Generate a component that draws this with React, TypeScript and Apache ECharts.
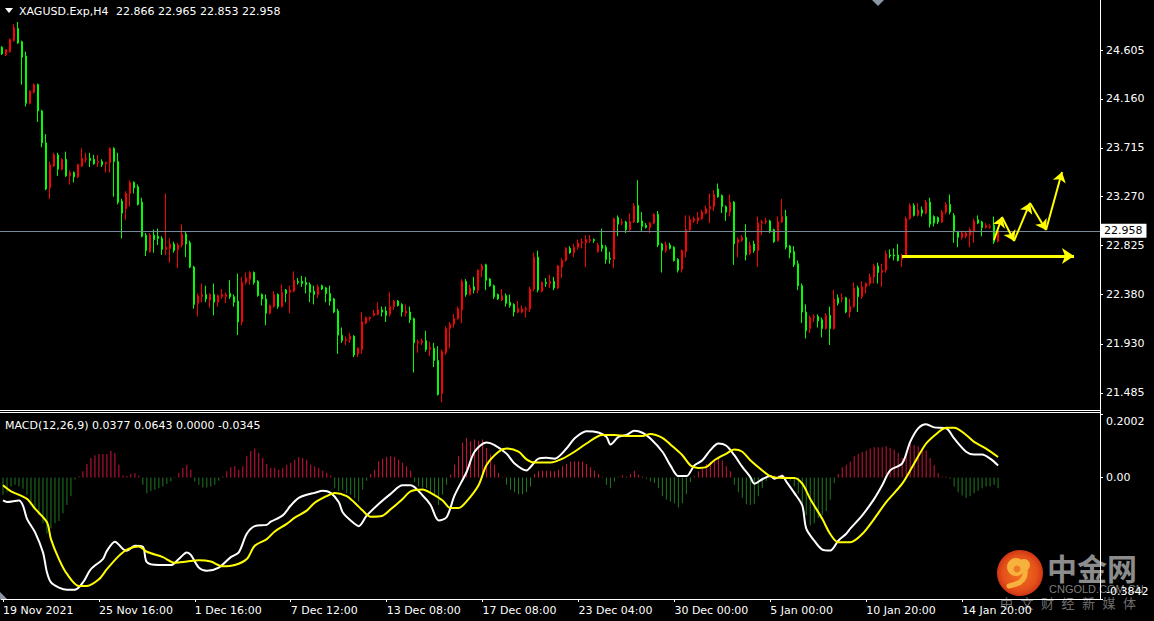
import React, { useEffect, useRef } from 'react';
import * as echarts from 'echarts';

// ---------- DATA ----------
const opens = [
  24.63,24.56,24.59,24.69,24.80,24.68,24.55,24.12,24.22,24.29,
  24.05,23.76,23.35,23.55,23.65,23.52,23.61,23.46,23.49,23.45,
  23.55,23.61,23.62,23.61,23.58,23.59,23.57,23.58,23.71,23.59,
  23.23,23.16,23.30,23.40,23.36,23.22,22.92,22.77,22.92,22.91,
  22.89,22.79,22.80,22.84,22.79,22.83,22.93,22.85,22.63,22.30,
  22.36,22.38,22.33,22.38,22.31,22.36,22.36,22.39,22.36,22.32,
  22.13,22.49,22.52,22.58,22.50,22.38,22.34,22.21,22.27,22.38,
  22.27,22.42,22.40,22.41,22.50,22.50,22.49,22.47,22.41,22.38,
  22.46,22.44,22.39,22.34,22.23,22.01,21.96,21.97,22.00,21.84,
  21.88,22.12,22.16,22.19,22.20,22.24,22.23,22.20,22.27,22.32,
  22.29,22.21,22.22,22.16,21.94,21.94,21.96,21.88,21.89,21.78,
  21.48,21.85,22.07,22.11,22.16,22.24,22.50,22.38,22.45,22.42,
  22.60,22.65,22.52,22.46,22.38,22.33,22.37,22.31,22.29,22.22,
  22.22,22.24,22.25,22.43,22.72,22.41,22.49,22.48,22.50,22.44,
  22.63,22.69,22.80,22.76,22.81,22.85,22.85,22.87,22.88,22.77,
  22.83,22.81,22.71,22.70,23.08,23.03,23.04,22.97,23.04,23.19,
  23.05,23.01,22.99,23.03,23.11,22.84,22.78,22.83,22.81,22.70,
  22.61,22.77,22.97,23.05,23.05,23.07,23.12,23.16,23.18,23.34,
  23.28,23.18,23.13,23.22,22.85,22.87,22.90,22.75,22.84,22.78,
  23.03,23.04,23.05,22.97,22.87,23.04,23.09,22.82,22.77,22.66,
  22.46,22.22,22.07,22.17,22.18,22.15,22.07,22.19,22.07,22.35,
  22.34,22.35,22.22,22.27,22.44,22.36,22.45,22.48,22.54,22.64,
  22.58,22.60,22.74,22.74,22.74,22.70,22.73,23.07,23.19,23.10,
  23.15,23.12,23.22,23.09,23.08,23.04,23.13,23.20,23.10,22.95,
  22.90,22.91,22.92,22.96,23.06,23.04,22.99,22.99,23.01,22.866,
];
const highs = [
  24.64,24.61,24.71,24.84,24.86,24.69,24.59,24.24,24.30,24.30,
  24.06,23.84,23.59,23.67,23.67,23.62,23.68,23.51,23.50,23.57,
  23.71,23.67,23.67,23.65,23.65,23.61,23.59,23.72,23.72,23.67,
  23.25,23.32,23.42,23.41,23.38,23.26,22.94,22.94,22.97,22.98,
  22.91,23.30,22.89,22.86,22.85,23.02,22.95,22.87,22.64,22.39,
  22.48,22.46,22.39,22.48,22.38,22.43,22.40,22.51,22.38,22.57,
  22.54,22.58,22.59,22.59,22.51,22.39,22.38,22.29,22.41,22.39,
  22.47,22.43,22.46,22.59,22.53,22.55,22.54,22.49,22.46,22.47,
  22.47,22.45,22.46,22.35,22.25,22.08,22.00,22.03,22.01,21.90,
  22.22,22.18,22.18,22.24,22.31,22.27,22.27,22.40,22.33,22.33,
  22.30,22.29,22.27,22.17,21.97,21.98,22.05,21.95,21.94,21.91,
  21.88,22.09,22.13,22.20,22.27,22.52,22.52,22.47,22.54,22.61,
  22.66,22.66,22.53,22.47,22.39,22.43,22.39,22.38,22.30,22.32,
  22.28,22.27,22.45,22.76,22.78,22.50,22.53,22.56,22.54,22.65,
  22.71,22.81,22.82,22.84,22.88,22.89,22.92,22.92,22.89,22.85,
  22.98,22.83,22.77,23.08,23.10,23.07,23.05,23.12,23.21,23.42,
  23.13,23.03,23.04,23.12,23.14,22.85,22.86,22.85,22.82,22.71,
  22.79,23.10,23.10,23.09,23.13,23.15,23.19,23.30,23.33,23.39,
  23.29,23.19,23.29,23.23,22.90,22.92,23.02,22.86,22.87,23.09,
  23.06,23.08,23.06,22.98,23.09,23.25,23.15,22.83,22.82,22.69,
  22.48,22.29,22.19,22.20,22.20,22.17,22.21,22.27,22.42,22.38,
  22.39,22.36,22.34,22.49,22.46,22.50,22.49,22.57,22.66,22.67,
  22.66,22.78,22.79,22.80,22.84,22.75,23.09,23.21,23.21,23.21,
  23.18,23.24,23.26,23.10,23.09,23.15,23.22,23.29,23.12,22.96,
  22.96,22.95,22.99,23.07,23.10,23.05,23.03,23.02,23.09,22.965,
];
const lows = [
  24.56,24.55,24.58,24.68,24.66,24.29,24.09,24.11,24.21,23.95,
  23.72,23.33,23.25,23.54,23.46,23.51,23.45,23.38,23.40,23.44,
  23.54,23.58,23.54,23.56,23.54,23.54,23.49,23.49,23.27,23.20,
  22.89,23.06,23.18,23.30,23.19,22.90,22.73,22.76,22.76,22.83,
  22.74,22.74,22.67,22.76,22.62,22.81,22.72,22.62,22.25,22.18,
  22.31,22.31,22.26,22.19,22.27,22.34,22.30,22.34,22.27,22.01,
  22.10,22.47,22.47,22.47,22.36,22.28,22.10,22.20,22.26,22.25,
  22.26,22.31,22.21,22.40,22.47,22.45,22.39,22.31,22.29,22.35,
  22.42,22.31,22.28,22.21,21.84,21.94,21.92,21.94,21.81,21.81,
  21.84,22.11,22.14,22.18,22.19,22.18,22.13,22.18,22.24,22.27,
  22.18,22.18,22.12,21.67,21.85,21.92,21.86,21.82,21.72,21.46,
  21.40,21.83,21.89,22.08,22.15,22.12,22.36,22.37,22.39,22.39,
  22.54,22.42,22.45,22.34,22.33,22.32,22.27,22.26,22.18,22.21,
  22.21,22.17,22.22,22.41,22.40,22.40,22.45,22.44,22.42,22.43,
  22.53,22.68,22.75,22.72,22.79,22.80,22.63,22.85,22.85,22.76,
  22.77,22.66,22.66,22.62,22.91,23.01,22.94,22.96,23.03,23.03,
  22.95,22.98,22.94,23.02,22.81,22.58,22.76,22.79,22.68,22.58,
  22.58,22.72,22.95,23.03,23.02,23.06,23.11,23.03,23.14,23.26,
  23.12,23.05,23.09,22.65,22.72,22.86,22.69,22.74,22.76,22.63,
  22.92,23.02,22.94,22.85,22.86,23.03,22.79,22.71,22.63,22.42,
  22.12,21.98,22.03,22.13,22.08,21.99,22.06,21.92,22.06,22.28,
  22.31,22.21,22.17,22.26,22.22,22.34,22.39,22.46,22.48,22.48,
  22.45,22.58,22.71,22.69,22.68,22.63,22.71,23.06,23.09,23.09,
  23.09,23.11,22.99,23.00,23.02,23.03,23.11,23.11,22.85,22.81,
  22.88,22.89,22.81,22.85,23.02,22.91,22.98,22.98,22.84,22.853,
];
const closes = [
  24.57,24.61,24.70,24.81,24.67,24.54,24.12,24.23,24.29,24.05,
  23.76,23.34,23.56,23.65,23.52,23.61,23.46,23.49,23.45,23.56,
  23.62,23.62,23.60,23.57,23.59,23.56,23.58,23.71,23.59,23.22,
  23.12,23.30,23.40,23.35,23.20,22.91,22.78,22.92,22.88,22.89,
  22.79,22.81,22.84,22.78,22.83,22.93,22.84,22.63,22.29,22.37,
  22.38,22.34,22.38,22.31,22.37,22.38,22.38,22.36,22.31,22.13,
  22.49,22.53,22.58,22.49,22.37,22.34,22.21,22.28,22.38,22.27,
  22.40,22.39,22.42,22.51,22.49,22.48,22.47,22.40,22.38,22.45,
  22.43,22.39,22.32,22.22,22.01,21.96,21.97,22.00,21.83,21.89,
  22.13,22.17,22.17,22.21,22.24,22.22,22.19,22.27,22.32,22.28,
  22.22,22.23,22.15,21.94,21.95,21.96,21.88,21.90,21.78,21.47,
  21.86,22.07,22.11,22.16,22.25,22.50,22.38,22.44,22.42,22.60,
  22.64,22.51,22.46,22.36,22.34,22.37,22.30,22.28,22.22,22.25,
  22.25,22.25,22.43,22.72,22.42,22.49,22.48,22.50,22.44,22.64,
  22.69,22.80,22.76,22.81,22.85,22.86,22.88,22.88,22.87,22.83,
  22.80,22.70,22.70,23.07,23.02,23.04,22.97,23.04,23.19,23.04,
  23.00,22.99,23.03,23.11,22.83,22.78,22.83,22.80,22.69,22.60,
  22.78,22.97,23.06,23.07,23.08,23.13,23.16,23.18,23.29,23.27,
  23.18,23.13,23.22,22.84,22.88,22.90,22.74,22.83,22.78,23.03,
  23.04,23.05,22.95,22.86,23.04,23.09,22.81,22.76,22.65,22.46,
  22.22,22.05,22.17,22.18,22.14,22.07,22.19,22.07,22.34,22.30,
  22.35,22.22,22.27,22.44,22.36,22.45,22.48,22.54,22.64,22.58,
  22.60,22.75,22.73,22.73,22.69,22.73,23.07,23.19,23.10,23.15,
  23.12,23.22,23.02,23.03,23.04,23.13,23.20,23.13,22.95,22.90,
  22.94,22.94,22.97,23.05,23.03,22.99,23.01,23.00,22.86,22.958,
];

const histValues = [
  -0.055,-0.047,-0.029,-0.023,-0.029,-0.036,-0.055,-0.076,-0.097,-0.119,
  -0.145,-0.177,-0.161,-0.145,-0.138,-0.113,-0.087,-0.060,-0.007,0.003,
  0.019,0.042,0.061,0.070,0.074,0.074,0.074,0.083,0.077,0.040,
  0.006,0.004,0.011,0.013,0.005,-0.023,-0.050,-0.044,-0.039,-0.034,
  -0.029,-0.021,-0.013,-0.002,0.014,0.030,0.040,0.024,-0.013,-0.023,
  -0.032,-0.032,-0.029,-0.023,-0.011,0.003,0.019,0.032,0.035,0.024,
  0.035,0.067,0.083,0.091,0.077,0.061,0.042,0.030,0.030,0.024,
  0.030,0.040,0.046,0.056,0.064,0.061,0.056,0.040,0.035,0.030,
  0.021,0.014,0.006,-0.034,-0.044,-0.039,-0.050,-0.055,-0.066,-0.076,
  -0.039,-0.011,0.011,0.024,0.051,0.059,0.064,0.067,0.064,0.056,
  0.046,0.035,0.021,-0.015,-0.029,-0.032,-0.034,-0.047,-0.055,-0.087,
  -0.055,-0.023,0.008,0.040,0.067,0.109,0.125,0.114,0.120,0.116,
  0.120,0.093,0.072,0.040,0.014,0.001,-0.023,-0.039,-0.047,-0.053,
  -0.053,-0.047,-0.029,0.011,0.019,0.021,0.021,0.019,0.019,0.024,
  0.035,0.042,0.049,0.051,0.051,0.049,0.042,0.032,0.021,0.011,
  0.001,-0.023,-0.034,-0.013,-0.002,0.006,0.003,0.011,0.021,0.008,
  0.003,-0.004,-0.013,-0.018,-0.034,-0.060,-0.071,-0.076,-0.082,-0.095,
  -0.082,-0.053,-0.015,0.003,0.019,0.032,0.042,0.049,0.053,0.061,
  0.053,0.035,0.019,-0.023,-0.047,-0.064,-0.085,-0.087,-0.085,-0.060,
  -0.034,-0.011,0.003,0.006,0.006,0.011,0.003,-0.011,-0.029,-0.050,
  -0.087,-0.119,-0.152,-0.145,-0.129,-0.119,-0.106,-0.071,-0.018,0.011,
  0.032,0.040,0.049,0.067,0.074,0.080,0.085,0.091,0.095,0.095,
  0.095,0.098,0.093,0.088,0.077,0.061,0.083,0.106,0.102,0.098,
  0.093,0.085,0.061,0.038,0.014,0.002,0.002,-0.004,-0.029,-0.047,
  -0.057,-0.064,-0.060,-0.050,-0.042,-0.034,-0.029,-0.029,-0.023,-0.0345,
];

// MACD main line (white) read at bar indices: [bar, value]
const macdPoints = [
  [0,-0.073],[1,-0.078],[4,-0.073],[5,-0.089],[6,-0.131],[8,-0.173],[10,-0.237],[11,-0.300],
  [12,-0.332],[14,-0.348],[16,-0.355],[18,-0.355],[20,-0.332],[22,-0.290],[25,-0.258],[26,-0.232],
  [28,-0.203],[30,-0.226],[31,-0.232],[33,-0.216],[35,-0.219],[36,-0.268],[39,-0.277],[42,-0.277],
  [44,-0.258],[46,-0.237],[47,-0.245],[49,-0.285],[51,-0.295],[54,-0.285],[57,-0.252],[59,-0.237],
  [61,-0.178],[63,-0.154],[66,-0.150],[67,-0.140],[70,-0.120],[72,-0.089],[74,-0.065],[76,-0.055],
  [78,-0.049],[80,-0.042],[82,-0.049],[84,-0.078],[85,-0.110],[87,-0.136],[89,-0.154],[91,-0.121],
  [94,-0.084],[97,-0.052],[100,-0.025],[102,-0.025],[105,-0.057],[107,-0.087],[109,-0.136],[111,-0.126],
  [113,-0.057],[116,0.017],[118,0.081],[121,0.110],[123,0.102],[126,0.075],[128,0.044],[131,0.022],
  [132,0.033],[134,0.059],[136,0.062],[138,0.059],[141,0.091],[143,0.123],[146,0.146],[149,0.142],
  [151,0.128],[152,0.104],[154,0.128],[156,0.134],[158,0.147],[160,0.141],[162,0.123],[165,0.081],
  [167,0.038],[169,0.004],[171,0.004],[173,0.038],[175,0.054],[177,0.086],[179,0.107],[181,0.100],
  [183,0.070],[185,0.033],[187,0.001],[188,-0.020],[190,-0.006],[192,0.004],[193,-0.004],[195,0.004],
  [196,-0.013],[198,-0.049],[200,-0.089],[201,-0.162],[203,-0.200],[205,-0.228],[207,-0.231],[209,-0.200],
  [211,-0.178],[212,-0.162],[215,-0.120],[218,-0.068],[220,-0.025],[222,0.022],[225,0.044],[227,0.112],
  [229,0.155],[231,0.168],[233,0.158],[236,0.155],[238,0.123],[241,0.081],[243,0.072],[245,0.072],
  [247,0.059],[249,0.0377],
];
// Signal line (yellow)
const signalPoints = [
  [0,-0.025],[2,-0.044],[6,-0.068],[8,-0.099],[11,-0.142],[12,-0.195],[14,-0.258],[16,-0.305],
  [19,-0.343],[21,-0.343],[24,-0.322],[26,-0.290],[29,-0.248],[31,-0.228],[34,-0.218],[36,-0.235],
  [40,-0.252],[43,-0.270],[46,-0.266],[49,-0.262],[52,-0.266],[55,-0.281],[58,-0.277],[61,-0.258],
  [63,-0.216],[66,-0.195],[68,-0.171],[71,-0.147],[73,-0.127],[76,-0.105],[78,-0.080],[81,-0.059],
  [83,-0.049],[86,-0.059],[88,-0.080],[90,-0.105],[92,-0.124],[95,-0.121],[97,-0.101],[100,-0.068],
  [102,-0.044],[105,-0.038],[107,-0.049],[110,-0.073],[112,-0.097],[114,-0.097],[116,-0.076],[119,-0.025],
  [121,0.039],[124,0.081],[126,0.091],[129,0.081],[131,0.057],[133,0.047],[137,0.047],[140,0.059],
  [143,0.081],[146,0.107],[150,0.134],[153,0.134],[156,0.131],[160,0.131],[162,0.137],[165,0.125],
  [167,0.104],[170,0.070],[172,0.038],[174,0.030],[176,0.033],[178,0.054],[181,0.075],[183,0.088],
  [185,0.081],[187,0.054],[190,0.022],[192,0.004],[195,-0.002],[198,-0.002],[200,-0.020],[202,-0.068],
  [205,-0.131],[207,-0.179],[209,-0.205],[212,-0.205],[215,-0.179],[218,-0.131],[221,-0.078],[225,-0.020],
  [228,0.044],[231,0.107],[234,0.142],[236,0.157],[238,0.157],[241,0.134],[243,0.112],[246,0.091],
  [249,0.0643],
];

const timeTicks = [
  '19 Nov 2021', '25 Nov 16:00', '1 Dec 16:00', '7 Dec 12:00', '13 Dec 08:00', '17 Dec 08:00',
  '23 Dec 04:00', '30 Dec 00:00', '5 Jan 00:00', '10 Jan 20:00', '14 Jan 20:00',
];
const priceTicks = [24.605, 24.16, 23.715, 23.27, 22.825, 22.38, 21.93, 21.485];
const macdTicks = [0.2002, 0, -0.3842];
const lastPrice = 22.958;
const headerSymbol = 'XAGUSD.Exp,H4';
const headerValues = '22.866 22.965 22.853 22.958';
const macdHeader = 'MACD(12,26,9) 0.0377 0.0643 0.0000 -0.0345';
const TICK_EVERY = 24;
const SLOTS = 275; // bars + right shift space

// hand-drawn annotation arrows, in [bar, price]
const flatArrow = [[224.5, 22.73], [267.75, 22.73]];
const zigzagArrow = [[248.25, 22.876], [250.25, 23.085], [253.25, 22.867], [257.25, 23.213], [261, 22.967], [265.25, 23.495]];

const watermarkTitle = '中金网';
const watermarkSite = 'CNGOLD.COM.CN';
const watermarkSub = ['中', '文', '财', '经', '新', '媒', '体'];

const FONT = '"DejaVu Sans", sans-serif';

export default function App() {
  const ref = useRef<HTMLDivElement>(null);
  useEffect(() => {
    if (!ref.current) return;
    const chart = echarts.init(ref.current, undefined, { renderer: 'svg' });
    const cats = Array.from({ length: SLOTS }, (_, i) => String(i));
    const labelFor = (i: number) =>
      i % TICK_EVERY === 0 && i / TICK_EVERY < timeTicks.length ? timeTicks[i / TICK_EVERY] : '';
    const showTick = (i: number) => labelFor(i) !== '';
    const candleData = closes.map((c, i) => [opens[i], c, lows[i], highs[i]]);
    const macdMax = Math.max(...macdTicks);
    const macdMin = Math.min(...macdTicks);

    const arrowLines: any[] = [];
    arrowLines.push([
      { coord: flatArrow[0], lineStyle: { color: '#ffff00', width: 3, type: 'solid' } },
      { coord: flatArrow[1], symbolSize: 12 },
    ]);
    for (let k = 0; k < zigzagArrow.length - 1; k++) {
      arrowLines.push([
        { coord: zigzagArrow[k], lineStyle: { color: '#ffff00', width: 2, type: 'solid' } },
        { coord: zigzagArrow[k + 1], symbolSize: 10 },
      ]);
    }

    const option: any = {
      animation: false,
      backgroundColor: '#000000',
      grid: [
        { left: 0, top: 0, width: 1100, height: 410 },
        { left: 0, top: 414, width: 1100, height: 185 },
      ],
      xAxis: [
        {
          type: 'category', gridIndex: 0, data: cats, boundaryGap: true,
          axisLine: { show: true, onZero: false, lineStyle: { color: '#ffffff', width: 1 } },
          axisTick: { show: false }, axisLabel: { show: false }, splitLine: { show: false },
        },
        {
          type: 'category', gridIndex: 1, data: cats, boundaryGap: true, position: 'bottom',
          axisLine: { show: true, onZero: false, lineStyle: { color: '#ffffff', width: 1 } },
          axisTick: { show: true, alignWithLabel: true, interval: (i: number) => showTick(i), length: 3, lineStyle: { color: '#ffffff' } },
          axisLabel: {
            show: true, interval: (i: number) => showTick(i), formatter: (_v: string, i: number) => labelFor(i),
            align: 'left', margin: 6, color: '#ffffff', fontFamily: FONT, fontSize: 11,
          },
          splitLine: { show: false },
        },
      ],
      yAxis: [
        {
          type: 'value', gridIndex: 0, position: 'right', min: 21.329, max: 25.06, scale: true,
          axisLine: { show: true, lineStyle: { color: '#ffffff', width: 1 } },
          axisTick: { show: true, customValues: priceTicks, length: 3, lineStyle: { color: '#ffffff' } },
          axisLabel: { show: true, customValues: priceTicks, formatter: (v: number) => v.toFixed(3), margin: 6, color: '#ffffff', fontFamily: FONT, fontSize: 11 },
          splitLine: { show: false },
        },
        {
          type: 'value', gridIndex: 1, position: 'right', min: macdMin, max: macdMax,
          axisLine: { show: true, lineStyle: { color: '#ffffff', width: 1 } },
          axisTick: { show: true, customValues: macdTicks, length: 3, lineStyle: { color: '#ffffff' } },
          axisLabel: {
            show: true, customValues: macdTicks,
            formatter: (v: number) => {
              if (v === 0) return '0.00';
              if (v === macdMax) return '{top|' + v.toFixed(4) + '}';
              return '{bot|' + v.toFixed(4) + '}';
            },
            rich: {
              top: { padding: [15, 0, 0, 0], color: '#ffffff', fontFamily: FONT, fontSize: 11 },
              bot: { padding: [0, 0, 15, 0], color: '#ffffff', fontFamily: FONT, fontSize: 11 },
            },
            margin: 6, color: '#ffffff', fontFamily: FONT, fontSize: 11,
          },
          splitLine: { show: false },
        },
      ],
      series: [
        {
          type: 'candlestick', name: 'XAGUSD', xAxisIndex: 0, yAxisIndex: 0, data: candleData,
          barWidth: 2,
          itemStyle: { color: '#000000', color0: '#00ff00', borderColor: '#ff0000', borderColor0: '#00ff00', borderWidth: 1 },
          markLine: {
            silent: true, animation: false, symbol: 'none',
            data: [
              {
                yAxis: lastPrice,
                lineStyle: { color: '#778899', width: 1, type: 'solid' },
                label: {
                  show: true, position: 'end', distance: 1, formatter: lastPrice.toFixed(3),
                  backgroundColor: '#ffffff', color: '#000000', padding: [2, 4, 1, 3],
                  fontFamily: FONT, fontSize: 11,
                },
              },
            ],
          },
        },
        {
          type: 'line', name: 'annotations', xAxisIndex: 0, yAxisIndex: 0, data: [],
          markLine: {
            silent: true, animation: false, symbol: ['none', 'arrow'],
            label: { show: false },
            lineStyle: { color: '#ffff00' },
            itemStyle: { color: '#ffff00' },
            data: arrowLines,
          },
        },
        {
          type: 'bar', name: 'hist', xAxisIndex: 1, yAxisIndex: 1, barWidth: 1,
          data: histValues.map((v) => ({ value: v, itemStyle: { color: v >= 0 ? '#d2143c' : '#1f7a1f' } })),
        },
        {
          type: 'line', name: 'MACD', xAxisIndex: 1, yAxisIndex: 1, data: macdPoints,
          smooth: 0.3, showSymbol: false, lineStyle: { color: '#ffffff', width: 2 },
        },
        {
          type: 'line', name: 'Signal', xAxisIndex: 1, yAxisIndex: 1, data: signalPoints,
          smooth: 0.3, showSymbol: false, lineStyle: { color: '#ffff00', width: 2 },
        },
      ],
      graphic: [
        { type: 'line', shape: { x1: 0, y1: 412.5, x2: 1100, y2: 412.5 }, style: { stroke: '#ffffff', lineWidth: 1 }, silent: true },
        { type: 'line', shape: { x1: 1100.5, y1: 0, x2: 1100.5, y2: 599 }, style: { stroke: '#ffffff', lineWidth: 1 }, silent: true },
        { type: 'polygon', shape: { points: [[5, 8], [13, 8], [9, 13]] }, style: { fill: '#ffffff' } },
        { type: 'text', x: 19, y: 11, style: { text: headerSymbol, fill: '#ffffff', font: `11px ${FONT}`, verticalAlign: 'middle' } },
        { type: 'text', x: 116, y: 11, style: { text: headerValues, fill: '#ffffff', font: `11px ${FONT}`, verticalAlign: 'middle' } },
        { type: 'text', x: 5, y: 425, style: { text: macdHeader, fill: '#ffffff', font: `11px ${FONT}`, verticalAlign: 'middle' } },
        { type: 'polygon', shape: { points: [[872, 0], [884, 0], [878, 6]] }, style: { fill: '#8a96a3' } },
        { type: 'polygon', shape: { points: [[0, 592], [0, 599], [7, 599]] }, style: { fill: '#8a96a3' } },
        // watermark
        {
          type: 'group', z: 100, children: [
            {
              type: 'circle', shape: { cx: 1020, cy: 573, r: 23 },
              style: {
                fill: new echarts.graphic.RadialGradient(0.5, 0.5, 0.5, [
                  { offset: 0, color: '#f3741f' }, { offset: 0.75, color: '#e4501a' }, { offset: 1, color: '#cf3514' },
                ]),
              },
            },
            { type: 'circle', shape: { cx: 1016, cy: 567, r: 9 }, style: { fill: '#f7b23e' } },
            { type: 'circle', shape: { cx: 1024, cy: 565, r: 6 }, style: { fill: '#f7b23e' } },
            { type: 'circle', shape: { cx: 1017, cy: 569, r: 3.5 }, style: { fill: '#ec7a25' } },
            { type: 'bezierCurve', shape: { x1: 1025, y1: 570, x2: 1009, y2: 586, cpx1: 1027, cpy1: 583 }, style: { stroke: '#f7b23e', lineWidth: 5, fill: 'none', lineCap: 'round' } },
            { type: 'text', x: 1047, y: 567, style: { text: watermarkTitle, fill: '#8c8c8c', font: 'bold 30px "Noto Sans CJK SC"', verticalAlign: 'middle' } },
            { type: 'text', x: 1049, y: 589, style: { text: watermarkSite, fill: 'rgba(150,150,150,0.85)', font: '11px "Liberation Sans"', verticalAlign: 'middle' } },
            ...watermarkSub.map((ch, k) => ({
              type: 'text', x: 1000 + k * 20.5, y: 602,
              style: { text: ch, fill: '#6e6e6e', font: '13px "Noto Sans CJK SC"', verticalAlign: 'middle' },
            })),
          ],
        },
      ],
    };
    chart.setOption(option);
    return () => chart.dispose();
  }, []);
  return (
    <div
      ref={ref}
      style={{ position: 'fixed', left: 0, top: 0, width: 1154, height: 621, background: '#000' }}
    />
  );
}
